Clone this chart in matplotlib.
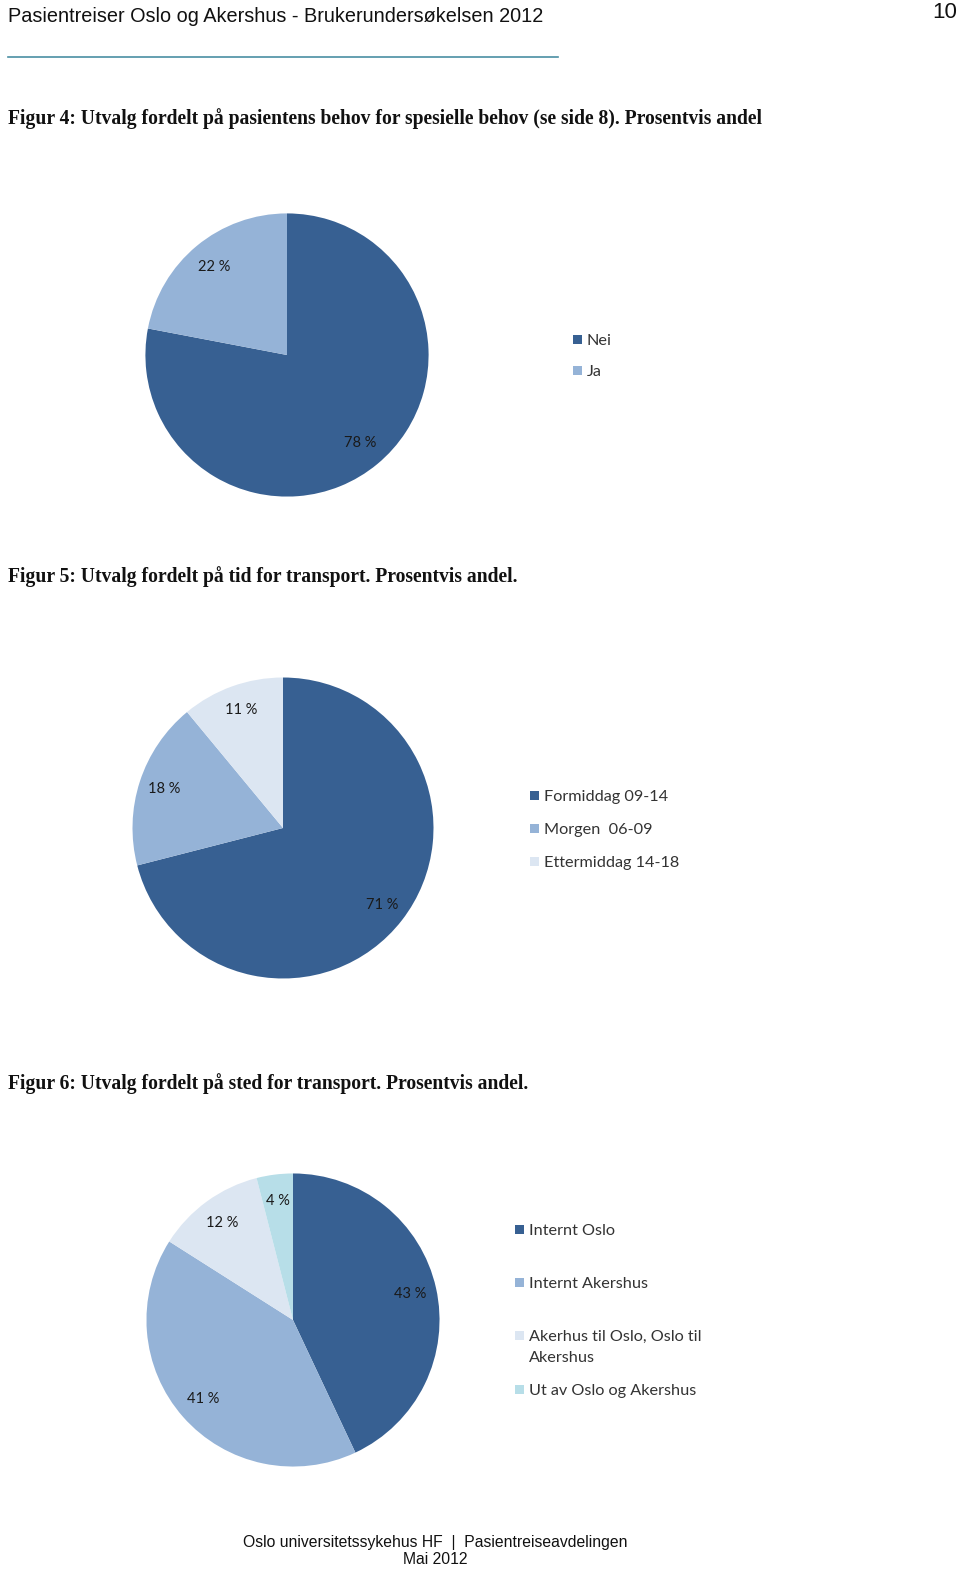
import matplotlib
matplotlib.use("Agg")
import matplotlib.pyplot as plt
from matplotlib.patches import Rectangle

W, H = 960, 1570

# data
fig4_labels = ["Nei", "Ja"]
fig4_values = [78, 22]

fig5_labels = ["Formiddag 09-14", "Morgen  06-09", "Ettermiddag 14-18"]
fig5_values = [71, 18, 11]

fig6_labels = ["Internt Oslo", "Internt Akershus",
               "Akerhus til Oslo, Oslo til\nAkershus", "Ut av Oslo og Akershus"]
fig6_values = [43, 41, 12, 4]

colors = ["#376092", "#95b3d7", "#dce6f2", "#b7dee8"]

LABEL_FONT = ["Lato", "DejaVu Sans"]


def px_axes(fig, cx, cy, r):
    # axes in pixel coords (y from top), square around the pie
    return fig.add_axes([(cx - r) / W, 1 - (cy + r) / H, 2 * r / W, 2 * r / H])


def draw_pie(fig, values, cx, cy, r, pctdist):
    ax = px_axes(fig, cx, cy, r)
    wedges, texts, autotexts = ax.pie(
        values, colors=colors[:len(values)], startangle=90, counterclock=False,
        radius=1, autopct=lambda p: f"{p:.0f} %", pctdistance=pctdist,
        wedgeprops=dict(linewidth=0),
        textprops=dict(fontsize=10.5, color="#1a1a1a", family=LABEL_FONT))
    ax.set_xlim(-1.01, 1.01)
    ax.set_ylim(-1.01, 1.01)
    ax.set_axis_off()
    return wedges


def draw_legend(fig, labels, x, ys, fontsize=11.7):
    for i, (lab, y) in enumerate(zip(labels, ys)):
        fig.patches.append(Rectangle(((x) / W, 1 - (y + 4.5) / H), 9 / W, 9 / H,
                                     transform=fig.transFigure, facecolor=colors[i],
                                     edgecolor="none"))
        fig.text((x + 14) / W, 1 - (y - 5) / H, lab, fontsize=fontsize,
                 family=LABEL_FONT, color="#333333", va="top", ha="left",
                 linespacing=1.65)


fig = plt.figure(figsize=(W / 100, H / 100), dpi=100)
fig.patch.set_facecolor("white")

# header
fig.text(8 / W, 1 - 16 / H, "Pasientreiser Oslo og Akershus - Brukerundersøkelsen 2012",
         fontsize=14.3, family="Liberation Sans", va="center", ha="left", color="#111111")
fig.text(957 / W, 1 - 12 / H, "10", fontsize=16, family="Liberation Sans",
         va="center", ha="right", color="#111111")
fig.add_artist(plt.Line2D([8 / W, 558 / W], [1 - 57 / H, 1 - 57 / H],
                          color="#4a8fa3", linewidth=1.2))

title_kw = dict(fontsize=14.1, family="Liberation Serif", weight="bold",
                va="center", ha="left", color="#111111")
fig.text(8 / W, 1 - 119 / H,
         "Figur 4: Utvalg fordelt på pasientens behov for spesielle behov (se side 8). Prosentvis andel",
         **title_kw)
fig.text(8 / W, 1 - 577 / H,
         "Figur 5: Utvalg fordelt på tid for transport. Prosentvis andel.", **title_kw)
fig.text(8 / W, 1 - 1084 / H,
         "Figur 6: Utvalg fordelt på sted for transport. Prosentvis andel.", **title_kw)

# pies
draw_pie(fig, fig4_values, 287, 355, 143, 0.81)
draw_legend(fig, fig4_labels, 573, [339, 370])

draw_pie(fig, fig5_values, 283, 828, 152, 0.83)
draw_legend(fig, fig5_labels, 530, [795, 828, 861])

draw_pie(fig, fig6_values, 293, 1320, 148, 0.82)
draw_legend(fig, fig6_labels, 515, [1229, 1282, 1335, 1389])

# footer
fig.text(435 / W, 1 - 1543 / H, "Oslo universitetssykehus HF  |  Pasientreiseavdelingen",
         fontsize=11.3, family="Liberation Sans", va="center", ha="center", color="#111111")
fig.text(435 / W, 1 - 1560 / H, "Mai 2012",
         fontsize=11.3, family="Liberation Sans", va="center", ha="center", color="#111111")

fig.savefig("out.png", dpi=100, facecolor="white")
